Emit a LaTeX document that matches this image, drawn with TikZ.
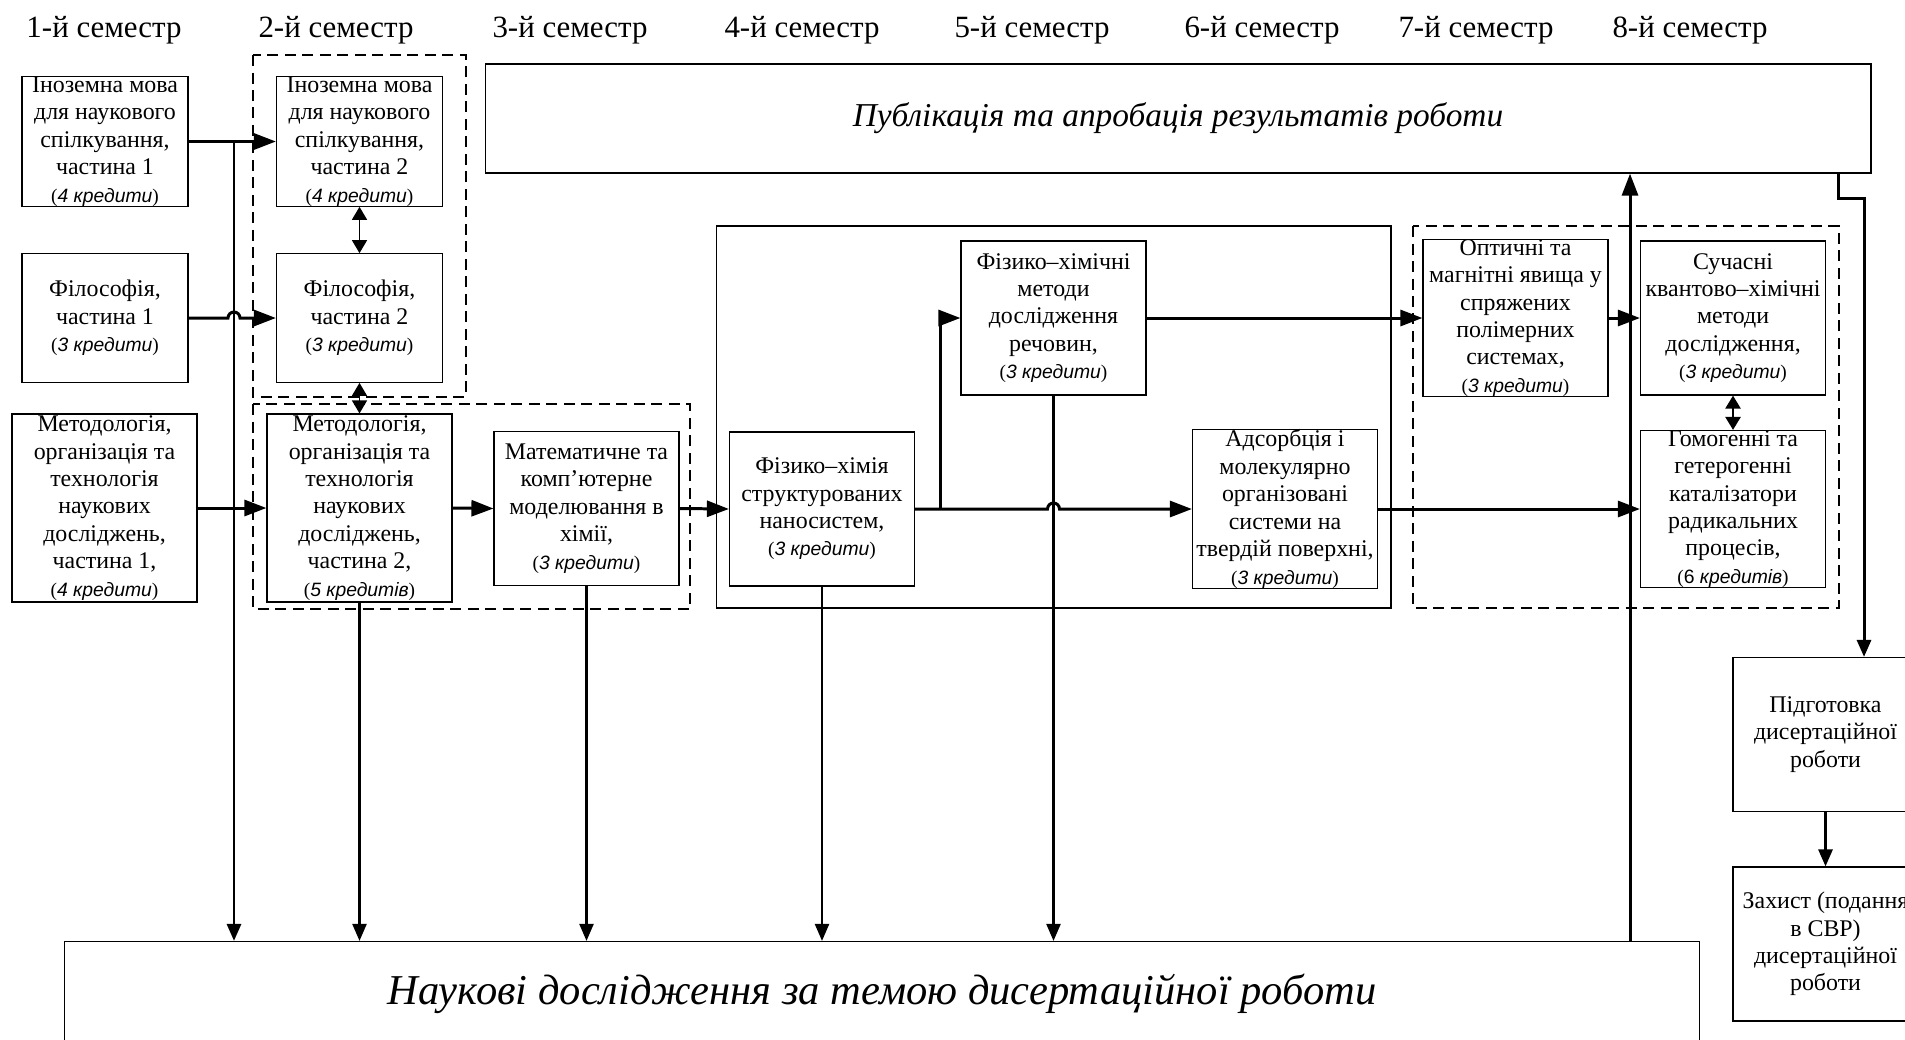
\documentclass[tikz,border=0pt]{standalone}
\usepackage{fontspec}
\setmainfont{Liberation Serif}
\setsansfont{Liberation Sans}
\usetikzlibrary{arrows.meta,calc}

% number of credits under a course title
\newcommand{\kred}[1]{{\fontsize{11}{12}\selectfont(\textsf{\itshape #1})}}

\tikzset{
  box/.style={draw, line width=0.7pt, align=center, inner sep=0pt,
    minimum width=3.7cm, minimum height=3.08cm,
    font=\fontsize{13.6}{15.6}\selectfont},
  smallbox/.style={box, minimum width=3.32cm, minimum height=2.57cm},
  bigbox/.style={draw, line width=0.7pt, inner sep=0pt, font=\itshape},
  group/.style={draw, line width=1.1pt, dash pattern=on 0.22cm off 0.13cm},
  flow/.style={line width=1.7pt, -{Triangle[length=0.44cm,width=0.32cm]}},
  down/.style={line width=1.3pt, -{Triangle[length=0.34cm,width=0.28cm]}},
  both/.style={line width=0.8pt, {Triangle[length=0.26cm,width=0.3cm]}-{Triangle[length=0.26cm,width=0.3cm]}},
  semlbl/.style={anchor=base, font=\fontsize{17.6}{20}\selectfont},
}

\begin{document}
\begin{tikzpicture}[x=0.02cm, y=-0.02cm]
  \useasboundingbox (0,0) rectangle (1905,1039);

  % semesters
  \foreach \n/\x in {1/104,2/336,3/570,4/802,5/1032,6/1262,7/1476,8/1690}
    \node[semlbl] (sem\n) at (\x,37) {\n-й семестр};

  % groups of courses
  \draw[group] (253,55) rectangle (466,397);
  \draw[group] (253,404) rectangle (690,609);
  \draw[line width=1.1pt] (716.5,226) rectangle (1391,608);
  \draw[group] (1413,226) rectangle (1839,608);

  % first semester
  \node[smallbox] (ino1) at (105,141.5) {Іноземна мова\\для наукового\\спілкування,\\частина 1\\\kred{4 кредити}};
  \node[smallbox] (phil1) at (105,318) {Філософія,\\частина 1\\\kred{3 кредити}};
  \node[box, minimum height=3.76cm] (meth1) at (104.5,508) {Методологія,\\організація та\\технологія\\наукових\\досліджень,\\частина 1,\\\kred{4 кредити}};

  % second semester
  \node[smallbox] (ino2) at (359.5,141.5) {Іноземна мова\\для наукового\\спілкування,\\частина 2\\\kred{4 кредити}};
  \node[smallbox] (phil2) at (359.5,318) {Філософія,\\частина 2\\\kred{3 кредити}};
  \node[box, minimum height=3.76cm] (meth2) at (359.5,508) {Методологія,\\організація та\\технологія\\наукових\\досліджень,\\частина 2,\\\kred{5 кредитів}};
  \node[box] (math) at (586.5,508.5) {Математичне та\\комп’ютерне\\моделювання в\\хімії,\\\kred{3 кредити}};

  % later semesters
  \node[box] (phch) at (822,509) {Фізико–хімія\\структурованих\\наносистем,\\\kred{3 кредити}};
  \node[box] (phmeth) at (1053.5,318) {Фізико–хімічні\\методи\\дослідження\\речовин,\\\kred{3 кредити}};
  \node[box] (adsorb) at (1285,509) {Адсорбція і\\молекулярно\\організовані\\системи на\\твердій поверхні,\\\kred{3 кредити}};
  \node[box] (optic) at (1515.5,318) {Оптичні та\\магнітні явища у\\спряжених\\полімерних\\системах,\\\kred{3 кредити}};
  \node[box] (quant) at (1733,318) {Сучасні\\квантово–хімічні\\методи\\дослідження,\\\kred{3 кредити}};
  \node[box] (homog) at (1733,509) {Гомогенні та\\гетерогенні\\каталізатори\\радикальних\\процесів,\\{\fontsize{11}{12}\selectfont(\textsf{6 \itshape кредитів})}};

  \node[bigbox, minimum width=27.72cm, minimum height=2.18cm,
    font=\itshape\fontsize{19}{22}\selectfont] (pub) at (1178,118.5) {Публікація та апробація результатів роботи};
  \node[bigbox, minimum width=32.72cm, minimum height=2.1cm,
    font=\itshape\fontsize{24.2}{28}\selectfont] (res) at (882,994) {Наукові дослідження за темою дисертаційної роботи};

  \node[box] (prep) at (1825.5,734.5) {Підготовка\\дисертаційної\\роботи};
  \node[box] (def) at (1825.5,944) {Захист (подання\\в СВР)\\дисертаційної\\роботи};

  % connectors
  \coordinate (bus) at (234,142);
  \coordinate (fork) at ($(phch.east)+(25,0)$);
  \coordinate (riser) at (1630,173);
  \coordinate (pubout) at (1838,173);

  \draw[flow] (ino1.east) -- (ino2.west);
  \draw[down, line width=1.7pt] (bus) -- (bus |- res.north);
  \draw[flow] (phil1.east) -- ([xshift=-0.12cm]bus |- phil1.east)
    arc[start angle=180, end angle=0, radius=0.12cm] -- (phil2.west);
  \draw[flow] (meth1.east) -- (meth2.west);
  \draw[both] (ino2.south) -- (phil2.north);
  \draw[both] (phil2.south) -- (meth2.north);
  \draw[flow] (meth2.east) -- (math.west);
  \draw[flow] (math.east) -- (phch.west);
  \draw[flow] (phch.east) -- ([xshift=-0.12cm]phmeth.south |- phch.east)
    arc[start angle=180, end angle=0, radius=0.12cm] -- (adsorb.west);
  \draw[flow] (fork) |- (phmeth.west);
  \draw[flow] (phmeth.east) -- (optic.west);
  \draw[flow] (optic.east) -- (quant.west);
  \draw[flow] (adsorb.east) -- (homog.west);
  \draw[both, line width=1.4pt] (quant.south) -- (homog.north);
  \draw[flow] (riser |- res.north) -- (riser |- pub.south);
  \draw[down, line width=1.7pt] (pubout) -- ++(0,25) -| ([xshift=0.77cm]prep.north);
  \draw[down, line width=1.6pt] (prep.south) -- (def.north);
  \foreach \src in {meth2,math,phch,phmeth}
    \draw[down] (\src.south) -- (\src.south |- res.north);
\end{tikzpicture}
\end{document}
